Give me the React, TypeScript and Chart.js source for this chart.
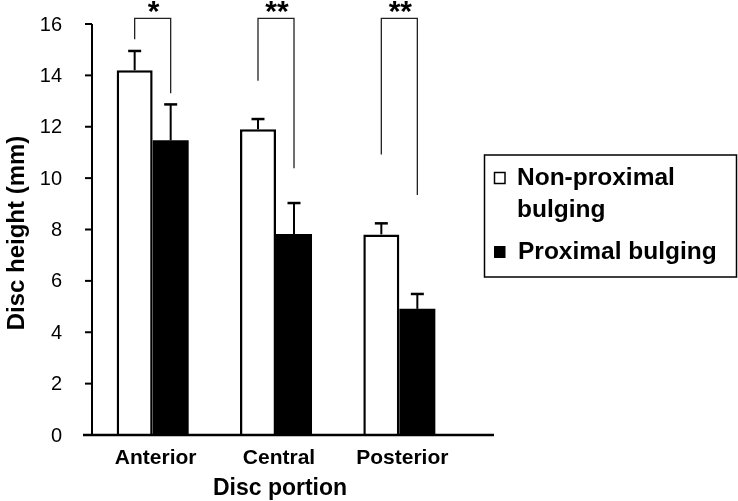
import React, { useEffect, useRef } from "react";
import { Chart, registerables } from "chart.js";

Chart.register(...registerables);

const categories = ["Anterior", "Central", "Posterior"];
const seriesNames = ["Non-proximal bulging", "Proximal bulging"];
const nonProximal = [14.2, 11.9, 7.81];
const nonProximalErr = [0.75, 0.4, 0.43];
const proximal = [11.47, 7.82, 4.91];
const proximalErr = [1.4, 1.21, 0.58];
const yTicks = [0, 2, 4, 6, 8, 10, 12, 14, 16];
const bracketTop = 16.22;
const bracketLeftEnd = [15.41, 13.79, 10.92];
const bracketRightEnd = [13.3, 10.38, 9.34];
const significance = ["*", "**", "**"];
const xTitle = "Disc portion";
const yTitle = "Disc height (mm)";

const FONT = "'Liberation Sans', Arial, Helvetica, sans-serif";

const overlayPlugin = {
  id: "overlay",
  afterDatasetsDraw(chart: any) {
    const ctx = chart.ctx;
    const y = chart.scales.y;
    const x = chart.scales.x;
    const area = chart.chartArea;
    const m0 = chart.getDatasetMeta(0);
    const m1 = chart.getDatasetMeta(1);
    ctx.save();

    // error bars
    const drawErr = (meta: any, vals: number[], errs: number[]) => {
      meta.data.forEach((bar: any, i: number) => {
        const bx = bar.x;
        const yTop = y.getPixelForValue(vals[i]);
        const yErr = y.getPixelForValue(vals[i] + errs[i]);
        ctx.strokeStyle = "#000";
        ctx.lineWidth = 2;
        ctx.beginPath();
        ctx.moveTo(bx, yTop);
        ctx.lineTo(bx, yErr);
        ctx.stroke();
        ctx.lineWidth = 2.5;
        ctx.beginPath();
        ctx.moveTo(bx - 6.5, yErr);
        ctx.lineTo(bx + 6.5, yErr);
        ctx.stroke();
      });
    };
    drawErr(m0, nonProximal, nonProximalErr);
    drawErr(m1, proximal, proximalErr);

    // axes
    const axisX = area.left + 1;
    const zeroY = y.getPixelForValue(0);
    ctx.strokeStyle = "#000";
    ctx.lineWidth = 2;
    ctx.beginPath();
    ctx.moveTo(axisX, y.getPixelForValue(16));
    ctx.lineTo(axisX, zeroY);
    ctx.stroke();
    ctx.fillStyle = "#000";
    ctx.font = `20px ${FONT}`;
    ctx.textAlign = "right";
    ctx.textBaseline = "middle";
    yTicks.forEach((t) => {
      const py = y.getPixelForValue(t);
      ctx.beginPath();
      ctx.moveTo(axisX - 7, py);
      ctx.lineTo(axisX, py);
      ctx.stroke();
      ctx.fillText(String(t), 62, py + 1);
    });
    ctx.lineWidth = 2.5;
    ctx.beginPath();
    ctx.moveTo(axisX - 9, zeroY);
    ctx.lineTo(494, zeroY);
    ctx.stroke();

    // category labels
    ctx.font = `bold 21px ${FONT}`;
    ctx.textAlign = "center";
    ctx.textBaseline = "alphabetic";
    categories.forEach((c, i) => {
      ctx.fillText(c, x.getPixelForValue(i) + 3, 464);
    });

    // brackets
    ctx.strokeStyle = "#222";
    ctx.lineWidth = 1.3;
    const topY = y.getPixelForValue(bracketTop);
    categories.forEach((_, i) => {
      const xl = m0.data[i].x;
      const xr = m1.data[i].x;
      ctx.beginPath();
      ctx.moveTo(xl, y.getPixelForValue(bracketLeftEnd[i]));
      ctx.lineTo(xl, topY);
      ctx.lineTo(xr, topY);
      ctx.lineTo(xr, y.getPixelForValue(bracketRightEnd[i]));
      ctx.stroke();
      ctx.fillStyle = "#000";
      ctx.font = `bold 30px ${FONT}`;
      ctx.textAlign = "center";
      ctx.textBaseline = "alphabetic";
      ctx.fillText(significance[i], (xl + xr) / 2 + 1, 21);
    });

    // axis titles
    ctx.fillStyle = "#000";
    ctx.font = `bold 23px ${FONT}`;
    ctx.textAlign = "center";
    ctx.textBaseline = "middle";
    ctx.fillText(xTitle, 280, 489);
    ctx.save();
    ctx.translate(17, 233);
    ctx.rotate(-Math.PI / 2);
    ctx.font = `bold 24px ${FONT}`;
    ctx.fillText(yTitle, 0, 0);
    ctx.restore();

    // legend
    ctx.strokeStyle = "#000";
    ctx.lineWidth = 1.5;
    ctx.strokeRect(484.5, 155, 252, 122);
    ctx.fillStyle = "#fff";
    ctx.fillRect(494.5, 172.5, 10.5, 11);
    ctx.strokeRect(494.5, 172.5, 10.5, 11);
    ctx.fillStyle = "#000";
    ctx.fillRect(494, 246, 11.5, 12);
    ctx.font = `bold 24.5px ${FONT}`;
    ctx.textAlign = "left";
    ctx.textBaseline = "alphabetic";
    const words = seriesNames[0].split(" ");
    ctx.fillText(words[0], 517, 185);
    ctx.fillText(words.slice(1).join(" "), 517, 216.5);
    ctx.fillText(seriesNames[1], 518, 258.5);

    ctx.restore();
  },
};

export default function App() {
  const ref = useRef<HTMLCanvasElement | null>(null);
  useEffect(() => {
    if (!ref.current) return;
    const chart = new Chart(ref.current, {
      type: "bar",
      data: {
        labels: categories,
        datasets: [
          {
            label: seriesNames[0],
            data: nonProximal,
            backgroundColor: "#ffffff",
            borderColor: "#000000",
            borderWidth: 2.5,
            borderSkipped: "bottom",
          },
          {
            label: seriesNames[1],
            data: proximal,
            backgroundColor: "#000000",
            borderColor: "#000000",
            borderWidth: 0,
          },
        ],
      },
      options: {
        responsive: false,
        animation: false,
        layout: { padding: { top: 24, right: 277, left: 91, bottom: 66 } },
        datasets: {
          bar: { categoryPercentage: 0.584, barPercentage: 1.0 },
        },
        plugins: {
          legend: { display: false },
          tooltip: { enabled: false },
          title: { display: false },
        },
        scales: {
          x: { display: false },
          y: { display: false, min: 0, max: 16 },
        },
      },
      plugins: [overlayPlugin],
    });
    return () => chart.destroy();
  }, []);
  return (
    <div style={{ position: "absolute", left: 0, top: 0, width: 738, height: 501, background: "#fff" }}>
      <canvas ref={ref} width={738} height={501} style={{ display: "block" }} />
    </div>
  );
}
